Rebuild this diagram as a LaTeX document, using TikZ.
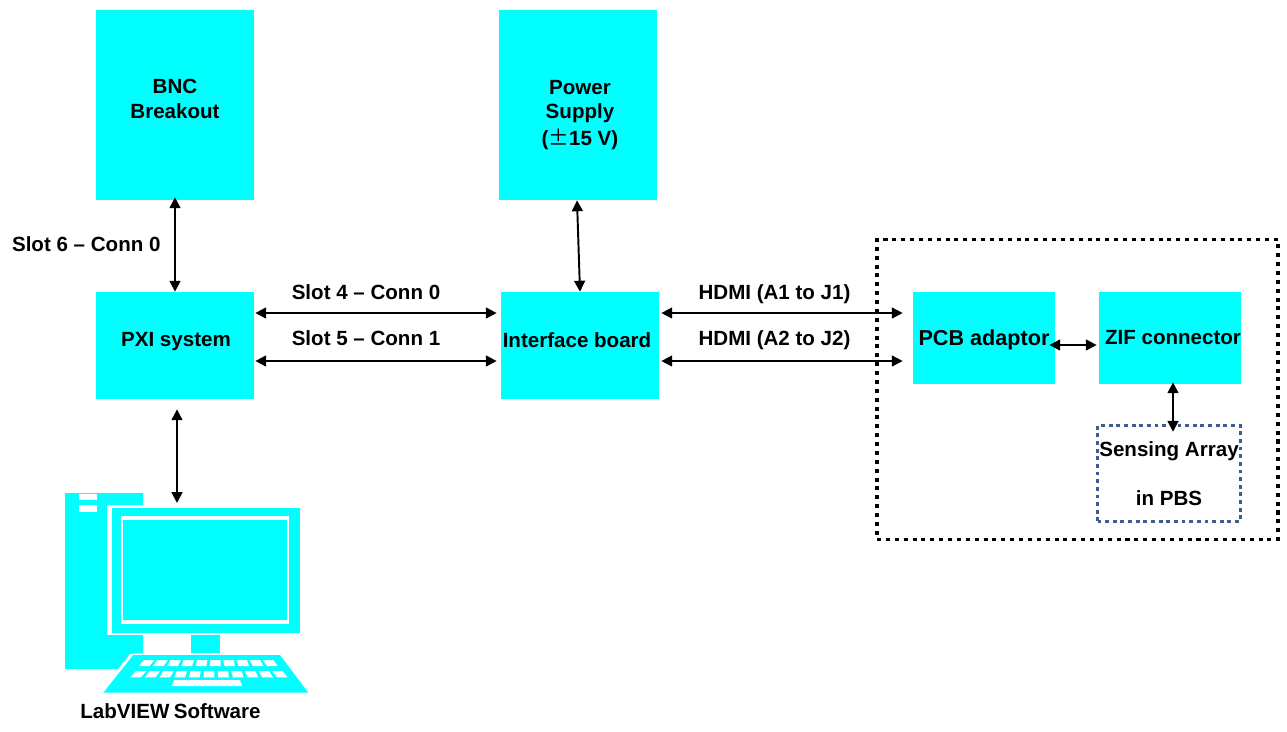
\documentclass[tikz,border=0pt]{standalone}
\usepackage{fontspec}
\setmainfont{Liberation Sans}
\newfontfamily\cjk{Noto Sans CJK SC}
\usepackage{xcolor}
\usetikzlibrary{arrows.meta,positioning,calc}
\definecolor{clrBox}{RGB}{0,255,255}
\definecolor{clrArray}{RGB}{62,92,140}
\tikzset{
  block/.style={rectangle,fill=clrBox,inner sep=0pt,minimum width=3.16cm},
  smallblock/.style={block,minimum width=2.84cm,minimum height=1.84cm},
  boxtext/.style={font=\fontsize{11.7}{13.9}\selectfont\bfseries,align=center,inner sep=0pt},
  conn/.style={font=\fontsize{11.7}{13.9}\selectfont\bfseries,inner sep=0pt,text height=8.4pt,text depth=2.5pt},
  arrow/.style={{Triangle[length=6.2pt,width=6.2pt]}-{Triangle[length=6.2pt,width=6.2pt]},line width=1.1pt,color=black},
  enclosure/.style={rectangle,draw=black,line width=2.2pt,dash pattern=on 2.3pt off 2.75pt,
    minimum width=8.02cm,minimum height=6cm,inner sep=0pt},
  array/.style={rectangle,draw=clrArray,line width=2pt,dash pattern=on 2.2pt off 2.15pt,
    minimum width=2.86cm,minimum height=1.92cm,align=center,inner sep=0pt,
    font=\fontsize{11.7}{27.8}\selectfont\bfseries},
  pcfill/.style={fill=clrBox},
  pcgap/.style={fill=white}
}
\begin{document}
\begin{tikzpicture}[x=0.02cm,y=-0.02cm]
  \useasboundingbox (0,0) rectangle (1287,731);

  \node[block,minimum height=3.8cm,
    label={[boxtext,yshift=0.12cm]center:BNC\\Breakout}] (bnc) at (175,105) {};
  \node[block,minimum height=3.8cm,
    label={[boxtext,yshift=-0.2cm,xshift=0.04cm]center:Power\\Supply\\[1.5pt]({\cjk\mdseries ±}15 V)}] (power) at (578,105) {};
  \node[block,minimum height=2.14cm,
    label={[boxtext,yshift=0.07cm,xshift=0.02cm]center:PXI system}] (pxi) at (175,345.5) {};
  \node[block,minimum height=2.14cm,
    label={[boxtext,yshift=0.11cm,xshift=-0.06cm]center:Interface board}] (interface) at (580,345.5) {};

  \node[enclosure] (enclosure) at (1077.5,389.5) {};

  \node[smallblock,label={[boxtext,yshift=-0.03cm,font=\fontsize{12.3}{13.9}\selectfont\bfseries]center:PCB adaptor}] (pcb) at (984,338) {};
  \node[smallblock,label={[boxtext,xshift=0.06cm]center:ZIF connector}] (zif) at (1170,338) {};
  \node[array] (sensing) at (1169,473.5) {Sensing Array\\in PBS};

  % computer
  \fill[pcfill] (65,493) -- (143,493) -- (143,505) -- (107,505) -- (107,635) -- (143,635)
    -- (143,653) -- (130,654) -- (118,669) -- (65,669) -- cycle;
  \fill[pcgap] (78.5,493.5) rectangle (96.7,500);
  \fill[pcgap] (78.5,505) rectangle (96.7,511.7);
  \fill[pcfill] (112,507.5) rectangle (300,632.7);
  \fill[pcgap] (120.7,516) rectangle (289,624.3);
  \fill[pcfill] (123,520.3) rectangle (287,620.3);
  \fill[pcfill] (191.3,635) rectangle (220,653.3);
  \fill[pcfill] (133.3,655) -- (280,655) -- (308.3,692.7) -- (103.3,692.7) -- cycle;
  \foreach \k in {0,...,9} {
    \pgfmathsetmacro{\keyx}{144+13.2*\k}
    \pgfmathsetmacro{\keyb}{\keyx+(\keyx-208)*0.08}
    \fill[pcgap] (\keyx,660) -- ++(10.5,0) -- (\keyb+10.5,666) -- (\keyb,666) -- cycle;
  }
  \foreach \k in {0,...,10} {
    \pgfmathsetmacro{\keyx}{136+13.6*\k}
    \pgfmathsetmacro{\keyb}{\keyx+(\keyx-208)*0.08}
    \fill[pcgap] (\keyx,671) -- ++(10.5,0) -- (\keyb+10.5,677.3) -- (\keyb,677.3) -- cycle;
  }
  \fill[pcgap] (174,680) -- (240,680) -- (242,686) -- (171.7,686) -- cycle;
  \coordinate (pc) at (177,503);
  \node[conn] (labview) at (170.5,713) {LabVIEW\hspace{-0.8pt} Software};

  \draw[arrow] ([yshift=0.06cm]bnc.south) to node[conn,left=0.27cm,yshift=-0.04cm] {Slot 6 -- Conn 0} (pxi.north);
  \draw[arrow] ([xshift=-0.02cm]power.south) -- (interface.north);
  \draw[arrow] ([yshift=0.65cm,xshift=0.02cm]pxi.east)
    to node[conn,above=0.17cm,xshift=-0.2cm] {Slot 4 -- Conn 0} ([yshift=0.65cm,xshift=-0.08cm]interface.west);
  \draw[arrow] ([yshift=-0.31cm,xshift=0.02cm]pxi.east)
    to node[conn,above=0.2cm,xshift=-0.2cm] {Slot 5 -- Conn 1} ([yshift=-0.31cm,xshift=-0.08cm]interface.west);
  \draw[arrow] ([yshift=0.65cm,xshift=0.04cm]interface.east)
    to node[conn,above=0.17cm,xshift=-0.15cm] {HDMI (A1 to J1)} ([yshift=0.5cm,xshift=-0.2cm]pcb.west);
  \draw[arrow] ([yshift=-0.31cm,xshift=0.04cm]interface.east)
    to node[conn,above=0.2cm,xshift=-0.15cm] {HDMI (A2 to J2)} ([yshift=-0.46cm,xshift=-0.2cm]pcb.west);
  \draw[arrow] ([yshift=-0.14cm,xshift=-0.12cm]pcb.east) -- ([yshift=-0.14cm,xshift=-0.04cm]zif.west);
  \draw[arrow] ([xshift=0.06cm,yshift=0.04cm]zif.south) -- ([xshift=0.08cm,yshift=-0.16cm]sensing.north);
  \draw[arrow] ([xshift=0.04cm,yshift=-0.2cm]pxi.south) -- (pc);
\end{tikzpicture}
\end{document}
